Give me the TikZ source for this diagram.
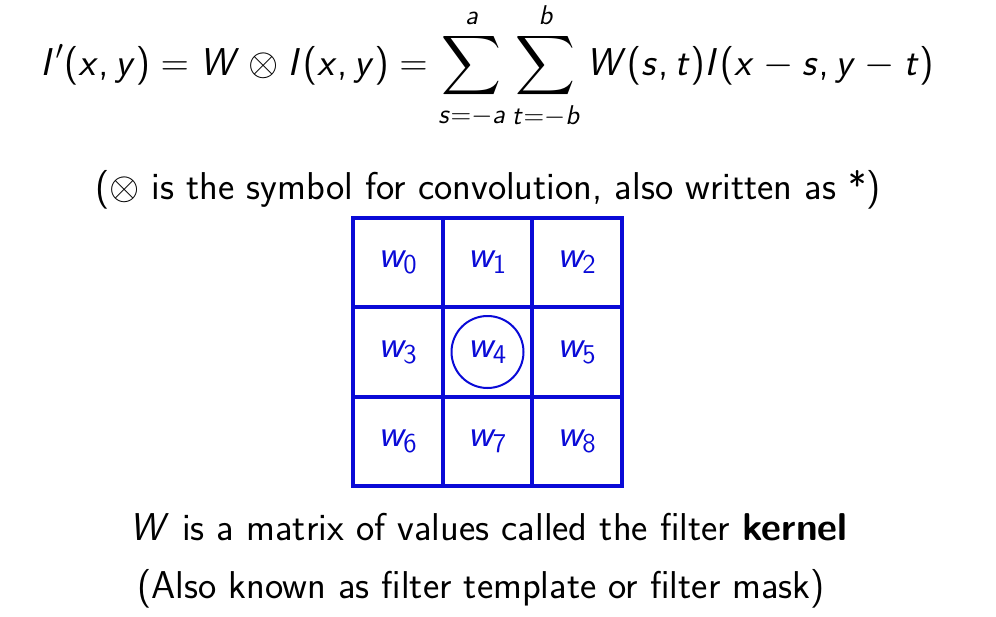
\RequirePackage{fix-cm}
\documentclass[tikz,border=0pt]{standalone}
\usepackage{amsmath}
\DeclareSymbolFont{sfit}{OT1}{cmss}{m}{sl}
\DeclareSymbolFont{sfup}{OT1}{cmss}{m}{n}
\DeclareMathSymbol{W}{\mathalpha}{sfit}{`W}
\DeclareMathSymbol{I}{\mathalpha}{sfit}{`I}
\DeclareMathSymbol{x}{\mathalpha}{sfit}{`x}
\DeclareMathSymbol{y}{\mathalpha}{sfit}{`y}
\DeclareMathSymbol{s}{\mathalpha}{sfit}{`s}
\DeclareMathSymbol{t}{\mathalpha}{sfit}{`t}
\DeclareMathSymbol{a}{\mathalpha}{sfit}{`a}
\DeclareMathSymbol{b}{\mathalpha}{sfit}{`b}
\DeclareMathSymbol{w}{\mathalpha}{sfit}{`w}
\DeclareMathSymbol{0}{\mathalpha}{sfup}{`0}
\DeclareMathSymbol{1}{\mathalpha}{sfup}{`1}
\DeclareMathSymbol{2}{\mathalpha}{sfup}{`2}
\DeclareMathSymbol{3}{\mathalpha}{sfup}{`3}
\DeclareMathSymbol{4}{\mathalpha}{sfup}{`4}
\DeclareMathSymbol{5}{\mathalpha}{sfup}{`5}
\DeclareMathSymbol{6}{\mathalpha}{sfup}{`6}
\DeclareMathSymbol{7}{\mathalpha}{sfup}{`7}
\DeclareMathSymbol{8}{\mathalpha}{sfup}{`8}
\DeclareMathSymbol{(}{\mathopen}{sfup}{`(}
\DeclareMathSymbol{)}{\mathclose}{sfup}{`)}
\DeclareMathSymbol{,}{\mathpunct}{sfup}{`,}
\definecolor{kblue}{RGB}{10,10,215}
\begin{document}
\begin{tikzpicture}[x=0.5pt,y=-0.5pt,
  txt/.style={inner sep=0pt,font=\sffamily\fontsize{19.4}{23}\selectfont},
  cell/.style={draw=kblue,line width=2pt,minimum size=44.75pt,inner sep=0pt,
    text=kblue,font=\sffamily\fontsize{19.4}{23}\selectfont},
  ring/.style={circle,draw=kblue,line width=1pt,minimum size=36pt,inner sep=0pt}]
\useasboundingbox (0,0) rectangle (996,616);
\node[txt] (eq) at (487,66) {$\displaystyle I'(x,y) = W \otimes I(x,y) = \sum_{s=-a}^{a}\sum_{t=-b}^{b} W(s,t)I(x-s,y-t)$};
\node[txt] (note) at (488,190) {($\otimes$ is the symbol for convolution, also written as *)};
\node[cell] (c0) at (398,262.5) {$w_0$};
\node[cell] (c1) at (487.5,262.5) {$w_1$};
\node[cell] (c2) at (577,262.5) {$w_2$};
\node[cell] (c3) at (398,352) {$w_3$};
\node[cell] (c4) at (487.5,352) {$w_4$};
\node[cell] (c5) at (577,352) {$w_5$};
\node[cell] (c6) at (398,441.5) {$w_6$};
\node[cell] (c7) at (487.5,441.5) {$w_7$};
\node[cell] (c8) at (577,441.5) {$w_8$};
\node[ring] (r4) at (c4) {};
\node[txt] (kern) at (488.5,527) {$W$ is a matrix of values called the filter \textbf{kernel}};
\node[txt] (aka) at (481,589) {(Also known as filter template or filter mask)};
\end{tikzpicture}
\end{document}
